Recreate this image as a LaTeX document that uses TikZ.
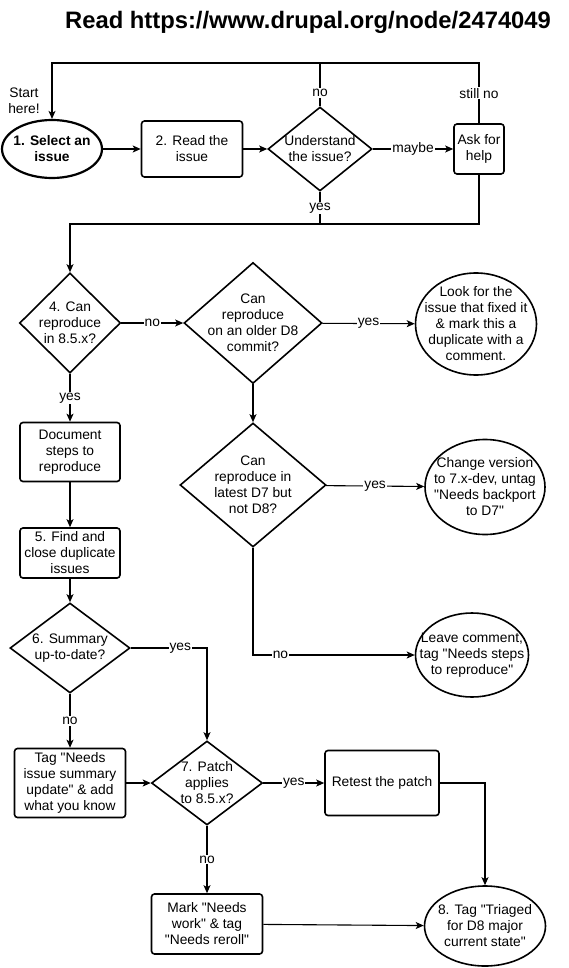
\documentclass[tikz,border=0pt]{standalone}
\usepackage{fontspec}
\setmainfont{Liberation Sans}[Ligatures=TeXOff]
\usetikzlibrary{shapes.geometric,arrows.meta}
\begin{document}
\begin{tikzpicture}[x=1pt,y=-1pt,
  every node/.style={font=\fontsize{13.8}{16}\selectfont, inner sep=0pt},
  box/.style={draw, rounded corners=3pt, line width=1.6pt, align=center},
  dia/.style={draw, diamond, line width=1.6pt},
  ell/.style={draw, ellipse, line width=1.6pt},
  txt/.style={align=center},
  con/.style={line width=1.1pt},
  arr/.style={con, -{Stealth[length=8pt,width=7pt,inset=2pt]}},
  lab/.style={fill=white, inner sep=1pt}
]
\useasboundingbox (0,0) rectangle (569,968);
\node[font=\fontsize{23.8}{28}\selectfont\bfseries] (title) at (308,22) {Read https://www.drupal.org/node/2474049};
\node[txt] (start) at (24,101) {Start\\here!};
% row 1
\node[ell, line width=2.2pt, minimum width=100, minimum height=58] (sel) at (52,149) {};
\node[txt, font=\fontsize{13.8}{16}\selectfont\bfseries] at (sel) {1. Select an\\issue};
\node[box, minimum width=101, minimum height=56] (rd) at (192,149) {2. Read the\\issue};
\node[dia, minimum width=104, minimum height=84] (und) at (320,149) {};
\node[txt] at (und) {Understand\\the issue?};
\node[box, minimum width=50, minimum height=50] (ask) at (479,149) {Ask for\\help};
% row 2
\node[dia, minimum width=101, minimum height=100] (d4) at (70,323) {};
\node[txt] at (d4) {4. Can\\reproduce\\in 8.5.x?};
\node[dia, minimum width=138, minimum height=121] (d8) at (253,323) {};
\node[txt] at (d8) {Can\\reproduce\\on an older D8\\commit?};
\node[ell, minimum width=121, minimum height=102] (look) at (476,324) {};
\node[txt] at (look) {Look for the\\issue that fixed it\\\& mark this a\\duplicate with a\\comment.};
\node[box, minimum width=100, minimum height=59] (doc) at (70,452) {Document\\steps to\\reproduce};
\node[dia, minimum width=146, minimum height=124] (d7) at (253,485) {};
\node[txt] at (d7) {Can\\reproduce in\\latest D7 but\\not D8?};
\node[ell, minimum width=120, minimum height=95] (chg) at (485,487) {};
\node[txt] at (chg) {Change version\\to 7.x-dev, untag\\"Needs backport\\to D7"};
\node[box, minimum width=100, minimum height=50] (find) at (70,553) {5. Find and\\close duplicate\\issues};
\node[dia, minimum width=120, minimum height=90] (d6) at (70,648) {};
\node[txt] at (d6) {6. Summary\\up-to-date?};
\node[ell, minimum width=113, minimum height=84] (leave) at (472,655) {};
\node[txt] at (leave) {Leave comment,\\tag "Needs steps\\to reproduce"};
\node[box, minimum width=111, minimum height=69] (tag) at (70,783) {Tag "Needs\\issue summary\\update" \& add\\what you know};
\node[dia, minimum width=111, minimum height=84] (p7) at (207,783) {};
\node[txt] at (p7) {7. Patch\\applies\\to 8.5.x?};
\node[box, minimum width=114, minimum height=65] (retest) at (382,783) {Retest the patch};
\node[box, minimum width=111, minimum height=60] (mark) at (207,924) {Mark "Needs\\work" \& tag\\"Needs reroll"};
\node[ell, minimum width=121, minimum height=80] (tri) at (485,926) {};
\node[txt] at (tri) {8. Tag "Triaged\\for D8 major\\current state"};
% connectors
\coordinate (top) at (0,63);
\coordinate (mid) at (0,224);
\draw[arr] (sel) -- (rd);
\draw[arr] (rd) -- (und);
\draw[arr] (und) -- node[lab]{maybe} (ask);
\draw[arr] (und.north) -- node[lab,pos=0.31]{no} (und.north |- top) -- (sel.north |- top) -- (sel.north);
\draw[con] (ask.north) -- node[lab]{still no} (ask.north |- top) -- (und.north |- top);
\draw[con] (und.south) -- node[lab]{yes} (und.south |- mid);
\draw[arr] (ask.south) -- (ask.south |- mid) -- (d4.north |- mid) -- (d4.north);
\draw[arr] (d4) -- node[lab]{no} (d8);
\draw[arr] (d8) -- node[lab]{yes} (look);
\draw[arr] (d8) -- (d7);
\draw[arr] (d7) -- node[lab]{yes} (chg);
\draw[arr] (d7.south) |- node[lab,pos=0.585]{no} (leave.west);
\draw[arr] (d4) -- node[lab]{yes} (doc);
\draw[arr] (doc) -- (find);
\draw[arr] (find) -- (d6);
\draw[arr] (d6) -- node[lab]{no} (tag);
\draw[arr] (d6.east) -| node[lab,pos=0.325]{yes} (p7.north);
\draw[arr] (tag) -- (p7);
\draw[arr] (p7) -- node[lab]{yes} (retest);
\draw[arr] (retest.east) -| (tri.north);
\draw[arr] (p7) -- node[lab]{no} (mark);
\draw[arr] (mark) -- (tri);
\end{tikzpicture}
\end{document}
